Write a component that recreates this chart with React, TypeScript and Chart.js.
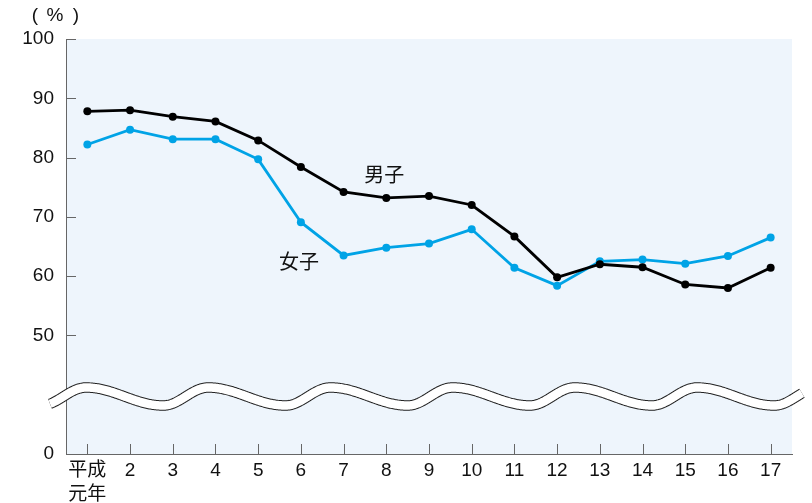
import React, { useEffect, useRef } from "react";
import { Chart, registerables } from "chart.js";

Chart.register(...registerables);

const categories: (string | string[])[] = [
  ["平成", "元年"], "2", "3", "4", "5", "6", "7", "8", "9", "10", "11", "12", "13", "14", "15", "16", "17",
];
const maleValues = [87.8, 88.0, 86.9, 86.1, 82.9, 78.4, 74.2, 73.2, 73.5, 72.0, 66.7, 59.8, 62.0, 61.5, 58.6, 58.0, 61.4];
const femaleValues = [82.2, 84.7, 83.1, 83.1, 79.7, 69.1, 63.5, 64.8, 65.5, 67.9, 61.4, 58.4, 62.5, 62.8, 62.1, 63.4, 66.5];
const yTickValues = [30, 50, 60, 70, 80, 90, 100];
const yTickLabels = ["0", "50", "60", "70", "80", "90", "100"];
const seriesNames = ["男子", "女子"];
const seriesLabelAnchors = [
  { index: 7, value: 77.1 },
  { index: 5, value: 62.5 },
];

const FONT = "'Liberation Sans', Arial, 'Noto Sans CJK JP', sans-serif";
const AXIS_COLOR = "#666";

const decorPlugin = {
  id: "decor",
  beforeDraw(chart: any) {
    const { ctx, chartArea } = chart;
    ctx.save();
    ctx.fillStyle = "#eef5fc";
    ctx.fillRect(chartArea.left, chartArea.top, chartArea.right - chartArea.left, chartArea.bottom - chartArea.top);
    ctx.restore();
  },
  afterDatasetsDraw(chart: any) {
    const { ctx, chartArea, scales } = chart;
    const x = scales.x;
    const y = scales.y;
    ctx.save();
    ctx.strokeStyle = AXIS_COLOR;
    ctx.lineWidth = 1;
    for (const v of yTickValues) {
      if (v === yTickValues[0]) continue;
      const py = Math.round(y.getPixelForValue(v)) + 0.5;
      ctx.beginPath();
      ctx.moveTo(chartArea.left, py);
      ctx.lineTo(chartArea.left + 10, py);
      ctx.stroke();
    }
    for (let i = 0; i < categories.length; i++) {
      const px = Math.round(x.getPixelForValue(i)) + 0.5;
      ctx.beginPath();
      ctx.moveTo(px, chartArea.bottom);
      ctx.lineTo(px, chartArea.bottom - 10);
      ctx.stroke();
    }
    ctx.fillStyle = "#111";
    ctx.font = `20px 'Noto Sans CJK JP', sans-serif`;
    ctx.textAlign = "center";
    ctx.textBaseline = "middle";
    seriesNames.forEach((name, i) => {
      const a = seriesLabelAnchors[i];
      ctx.fillText(name, x.getPixelForValue(a.index) - 2, y.getPixelForValue(a.value));
    });
    ctx.font = `19px ${FONT}`;
    ctx.fillText("(", 35, 16);
    ctx.fillText("%", 55, 16);
    ctx.fillText(")", 76, 16);
    ctx.restore();
  },
  afterDraw(chart: any) {
    const { ctx } = chart;
    const mean = 396.5;
    const amp = 9;
    const period = 122.2;
    const firstPeak = 86;
    const rise = 45;
    const fall = period - rise;
    const pts: [number, number][] = [];
    for (let px = 50; px <= 802; px += 1) {
      let rel = (px - firstPeak) % period;
      if (rel < 0) rel += period;
      let py: number;
      if (rel < fall) {
        py = mean - amp * Math.cos((Math.PI * rel) / fall);
      } else {
        const r = rel - fall;
        py = mean + amp * Math.cos((Math.PI * r) / rise);
      }
      pts.push([px, py]);
    }
    const path = () => {
      ctx.beginPath();
      pts.forEach(([a, b], i) => (i === 0 ? ctx.moveTo(a, b) : ctx.lineTo(a, b)));
    };
    ctx.save();
    ctx.lineCap = "butt";
    ctx.lineJoin = "round";
    path();
    ctx.strokeStyle = "#222";
    ctx.lineWidth = 10.5;
    ctx.stroke();
    path();
    ctx.strokeStyle = "#fff";
    ctx.lineWidth = 8.5;
    ctx.stroke();
    ctx.restore();
  },
};

export default function App() {
  const canvasRef = useRef<HTMLCanvasElement | null>(null);

  useEffect(() => {
    if (!canvasRef.current) return;
    const chart = new Chart(canvasRef.current, {
      type: "line",
      data: {
        labels: categories as any,
        datasets: [
          {
            label: seriesNames[0],
            data: maleValues,
            borderColor: "#000",
            backgroundColor: "#000",
            borderWidth: 2.8,
            pointRadius: 4,
            pointBorderWidth: 0,
            pointBackgroundColor: "#000",
            tension: 0,
          },
          {
            label: seriesNames[1],
            data: femaleValues,
            borderColor: "#00a3e6",
            backgroundColor: "#00a3e6",
            borderWidth: 2.8,
            pointRadius: 4,
            pointBorderWidth: 0,
            pointBackgroundColor: "#00a3e6",
            tension: 0,
          },
        ],
      },
      options: {
        animation: false,
        responsive: false,
        maintainAspectRatio: false,
        layout: { padding: { top: 39, right: 20, left: 0, bottom: 0 } },
        plugins: {
          legend: { display: false },
          tooltip: { enabled: false },
        },
        scales: {
          x: {
            type: "category",
            offset: true,
            grid: { display: false, drawTicks: false },
            border: { display: true, color: AXIS_COLOR, width: 1 },
            ticks: {
              color: "#111",
              font: { family: FONT, size: 19, lineHeight: 1.3 },
              padding: 4,
              maxRotation: 0,
              autoSkip: false,
            },
            afterFit(scale: any) {
              scale.height = 49;
            },
          },
          y: {
            type: "linear",
            min: 30,
            max: 100,
            grid: { display: false, drawTicks: false },
            border: { display: true, color: AXIS_COLOR, width: 1 },
            afterBuildTicks(scale: any) {
              scale.ticks = yTickValues.map((v) => ({ value: v }));
            },
            ticks: {
              color: "#111",
              font: { family: FONT, size: 19 },
              padding: 12,
              callback: (v: any) => {
                const i = yTickValues.indexOf(Number(v));
                return i >= 0 ? yTickLabels[i] : "";
              },
            },
            afterFit(scale: any) {
              scale.width = 66;
            },
          },
        },
      },
      plugins: [decorPlugin],
    });
    return () => chart.destroy();
  }, []);

  return (
    <div style={{ position: "fixed", left: 0, top: 0, width: 812, height: 503, background: "#fff" }}>
      <canvas ref={canvasRef} width={812} height={503} style={{ width: 812, height: 503, display: "block" }} />
    </div>
  );
}
